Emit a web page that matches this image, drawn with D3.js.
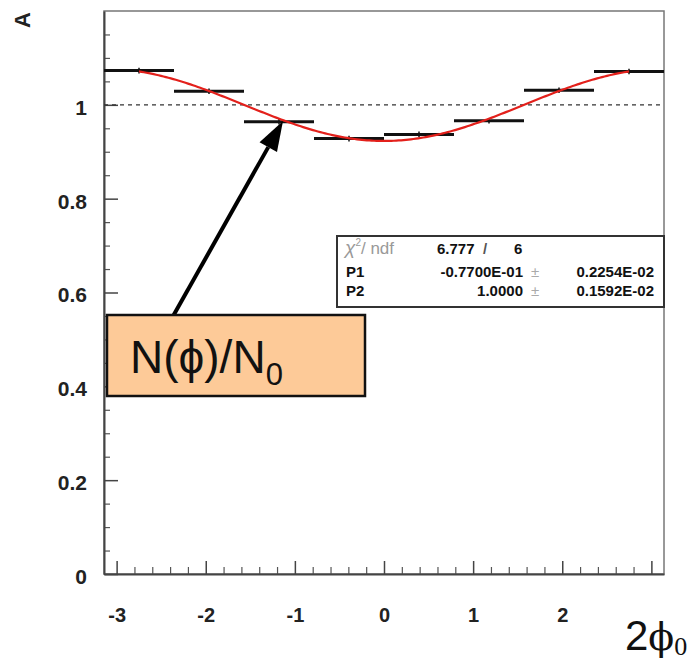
<!DOCTYPE html>
<html>
<head>
<meta charset="utf-8">
<script src="https://cdn.jsdelivr.net/npm/d3@7"></script>
<style>
  body { margin: 0; background: #fff; }
  svg { display: block; }
</style>
</head>
<body>
<div id="plot"></div>
<script>
// histogram bin edges (units of pi/4) and contents
binEdges = [-4, -3, -2, -1, 0, 1, 2, 3, 4].map(k => k * Math.PI / 4)
binValues = [1.073, 1.029, 0.964, 0.928, 0.937, 0.966, 1.031, 1.071]
binErrors = [0.006, 0.006, 0.006, 0.006, 0.006, 0.006, 0.006, 0.006]

// fit parameters as printed in the stats box
P1 = -0.077
P2 = 1.0
statsRows = [
  {name: "P1", value: "-0.7700E-01", err: "0.2254E-02"},
  {name: "P2", value: "1.0000", err: "0.1592E-02"}
]
chi2 = "6.777", ndf = "6"

xMajor = [-3, -2, -1, 0, 1, 2, 3]
xLabels = ["-3", "-2", "-1", "0", "1", "2", ""]
yMajor = [0, 0.2, 0.4, 0.6, 0.8, 1]

W = 698, H = 660
svg = d3.select("#plot").append("svg").attr("width", W).attr("height", H)

x = d3.scaleLinear([-Math.PI, Math.PI], [104, 664])
y = d3.scaleLinear([0, 1.2], [574, 11])

font = "'Liberation Sans', Arial, Helvetica, sans-serif"

// frame
svg.append("rect")
  .attr("x", x.range()[0]).attr("y", y.range()[1])
  .attr("width", x.range()[1] - x.range()[0]).attr("height", y.range()[0] - y.range()[1])
  .attr("fill", "none").attr("stroke", "#777").attr("stroke-width", 1.5)

// minor ticks
xMinor = d3.range(-30, 31, 2).filter(v => v % 10 != 0).map(v => v / 10)
svg.append("g").attr("transform", `translate(0,${y(0)})`)
  .call(d3.axisBottom(x).tickValues(xMinor).tickSize(-7).tickFormat(""))
  .call(g => g.select(".domain").remove())
  .call(g => g.selectAll("line").attr("stroke", "#555").attr("stroke-width", 1.2))

yMinor = d3.range(1, 24).filter(v => v % 4 != 0).map(v => v * 0.05)
svg.append("g").attr("transform", `translate(${x.range()[0]},0)`)
  .call(d3.axisLeft(y).tickValues(yMinor).tickSize(-6).tickFormat(""))
  .call(g => g.select(".domain").remove())
  .call(g => g.selectAll("line").attr("stroke", "#555").attr("stroke-width", 1.2))

// major ticks with labels
xAxis = svg.append("g").attr("transform", `translate(0,${y(0)})`)
  .call(d3.axisBottom(x).tickValues(xMajor).tickSizeInner(-13).tickSizeOuter(0).tickPadding(34)
    .tickFormat((d, i) => xLabels[i]))
xAxis.select(".domain").attr("stroke", "#444").attr("stroke-width", 2)
xAxis.selectAll("line").attr("stroke", "#444").attr("stroke-width", 1.5)
xAxis.selectAll("text").attr("font-family", font).attr("font-weight", "bold")
  .attr("font-size", 20).attr("fill", "#222")

yAxis = svg.append("g").attr("transform", `translate(${x.range()[0]},0)`)
  .call(d3.axisLeft(y).tickValues(yMajor).tickSizeInner(-14).tickSizeOuter(0).tickPadding(17)
    .tickFormat(d3.format("~g")))
yAxis.select(".domain").attr("stroke", "#444").attr("stroke-width", 2)
yAxis.selectAll("line").attr("stroke", "#444").attr("stroke-width", 1.5)
yAxis.selectAll("text").attr("font-family", font).attr("font-weight", "bold")
  .attr("font-size", 21).attr("fill", "#222").attr("dy", "0.45em")

// dashed reference at 1
svg.append("line")
  .attr("x1", x.range()[0]).attr("x2", x.range()[1])
  .attr("y1", y(1)).attr("y2", y(1))
  .attr("stroke", "#333").attr("stroke-width", 1.2).attr("stroke-dasharray", "4,4")

// histogram bins
bins = binValues.map((v, i) => ({x0: binEdges[i], x1: binEdges[i + 1], v: v, e: binErrors[i]}))
svg.append("g").selectAll("line").data(bins).join("line")
  .attr("x1", d => x(d.x0)).attr("x2", d => x(d.x1))
  .attr("y1", d => y(d.v)).attr("y2", d => y(d.v))
  .attr("stroke", "#111").attr("stroke-width", 3)
svg.append("g").selectAll("line").data(bins).join("line")
  .attr("x1", d => x((d.x0 + d.x1) / 2)).attr("x2", d => x((d.x0 + d.x1) / 2))
  .attr("y1", d => y(d.v - d.e)).attr("y2", d => y(d.v + d.e))
  .attr("stroke", "#111").attr("stroke-width", 1.5)

// fit curve, drawn between first and last bin centres
fit = t => P2 * (1 + P1 * Math.cos(t))
c0 = (binEdges[0] + binEdges[1]) / 2, c1 = (binEdges[7] + binEdges[8]) / 2
fitX = d3.range(0, 201).map(i => c0 + (c1 - c0) * i / 200)
svg.append("path")
  .attr("d", d3.line().x(t => x(t)).y(t => y(fit(t)))(fitX))
  .attr("fill", "none").attr("stroke", "#e3201b").attr("stroke-width", 2.2)

// stats box
sb = svg.append("g").attr("font-family", font).attr("font-size", 15).attr("font-weight", "bold").attr("fill", "#111")
sb.append("rect").attr("x", 337).attr("y", 236).attr("width", 327).attr("height", 71)
  .attr("fill", "#fff").attr("stroke", "#333").attr("stroke-width", 2)
chiT = sb.append("text").attr("x", 345).attr("y", 254).attr("fill", "#999").attr("font-weight", "normal")
  .attr("font-size", 17)
chiT.append("tspan").attr("font-style", "italic").attr("font-size", 19).text("χ")
chiT.append("tspan").attr("font-size", 10).attr("dy", -8).text("2")
chiT.append("tspan").attr("dy", 8).text("/ ndf")
sb.append("text").attr("x", 437).attr("y", 254).text(chi2)
sb.append("text").attr("x", 483).attr("y", 254).attr("fill", "#555").text("/")
sb.append("text").attr("x", 514).attr("y", 254).text(ndf)
statsRows.forEach((r, i) => {
  const yy = 277 + i * 19
  sb.append("text").attr("x", 346).attr("y", yy).text(r.name)
  sb.append("text").attr("x", 523).attr("y", yy).attr("text-anchor", "end").text(r.value)
  sb.append("text").attr("x", 531).attr("y", yy).attr("fill", "#aaa").attr("font-weight", "normal").text("±")
  sb.append("text").attr("x", 654).attr("y", yy).attr("text-anchor", "end").text(r.err)
})

// annotation arrow
tip = [283, 121], tail = [172, 318]
ang = Math.atan2(tip[1] - tail[1], tip[0] - tail[0])
headLen = 30, headW = 10
base = [tip[0] - headLen * Math.cos(ang), tip[1] - headLen * Math.sin(ang)]
svg.append("line").attr("x1", tail[0]).attr("y1", tail[1]).attr("x2", base[0]).attr("y2", base[1])
  .attr("stroke", "#000").attr("stroke-width", 4)
svg.append("polygon")
  .attr("points", [tip,
    [base[0] + headW * Math.sin(ang), base[1] - headW * Math.cos(ang)],
    [base[0] - headW * Math.sin(ang), base[1] + headW * Math.cos(ang)]].map(p => p.join(",")).join(" "))
  .attr("fill", "#000")

// annotation box
svg.append("rect").attr("x", 107).attr("y", 315).attr("width", 258).attr("height", 81)
  .attr("fill", "#fdca98").attr("stroke", "#111").attr("stroke-width", 2.5)
ann = svg.append("text").attr("x", 130).attr("y", 373).attr("font-family", font)
  .attr("font-size", 46).attr("fill", "#111")
ann.append("tspan").text("N(ϕ)/N")
ann.append("tspan").attr("font-size", 31).attr("dy", 12).text("0")

// axis titles
svg.append("text").attr("transform", "translate(30,20) rotate(-90)")
  .attr("text-anchor", "middle").attr("font-family", font).attr("font-weight", "bold")
  .attr("font-size", 22).attr("fill", "#222").text("A")

xt = svg.append("text").attr("x", 625).attr("y", 650).attr("font-size", 42).attr("fill", "#111")
xt.append("tspan").attr("font-family", font).text("2")
xt.append("tspan").attr("font-family", "'DejaVu Serif', 'Liberation Serif', serif").attr("font-size", 38).text("ϕ")
xt.append("tspan").attr("font-family", "'Liberation Serif', serif").attr("font-size", 26).attr("dy", 5).text("0")
</script>
</body>
</html>
